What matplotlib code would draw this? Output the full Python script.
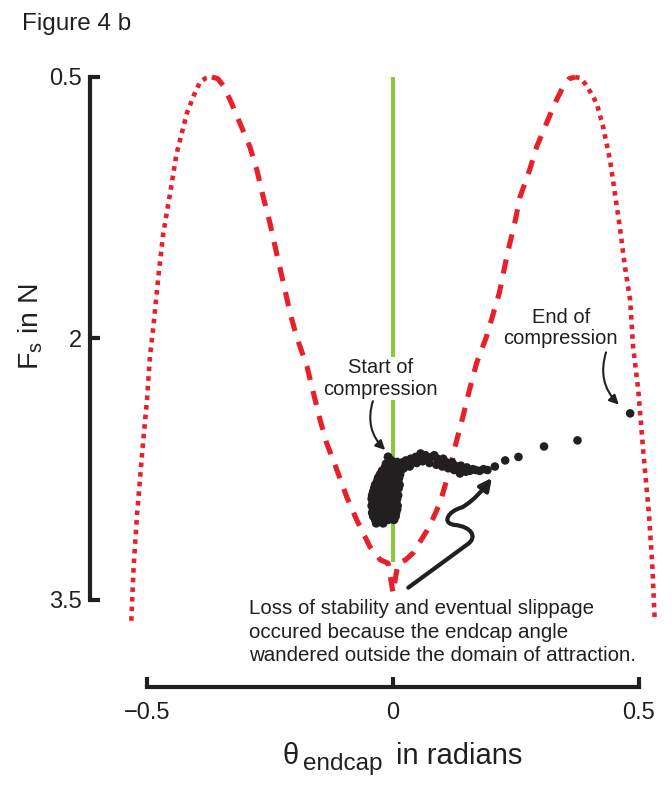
import matplotlib
matplotlib.use("Agg")
import matplotlib.pyplot as plt
from matplotlib.path import Path
from matplotlib.patches import FancyArrowPatch

plt.rcParams['font.family'] = ['Liberation Sans', 'DejaVu Sans']
plt.rcParams['mathtext.default'] = 'regular'

INK = '#231f20'
RED = '#e8202a'
GREEN = '#8dc63f'

# ---- theoretical curve ----
outer_left_theta = [-0.532, -0.527, -0.520, -0.510, -0.500, -0.494, -0.487, -0.477,
                    -0.467, -0.453, -0.440, -0.419, -0.404, -0.392, -0.380, -0.368]
outer_left_force = [3.62, 3.30, 3.00, 2.66, 2.35, 2.10, 1.93, 1.646,
                    1.397, 1.166, 0.94, 0.708, 0.60, 0.527, 0.506, 0.50]

inner_theta = [-0.368, -0.356, -0.345, -0.331, -0.311, -0.291, -0.277, -0.264, -0.250,
               -0.236, -0.223, -0.209, -0.196, -0.175, -0.162, -0.148, -0.135, -0.114,
               -0.094, -0.074, -0.047, -0.026, -0.010, 0.000, 0.010, 0.026, 0.041,
               0.074, 0.096, 0.116, 0.128, 0.142, 0.155, 0.170, 0.190, 0.216, 0.232,
               0.248, 0.258, 0.278, 0.292, 0.312, 0.329, 0.345, 0.358, 0.370]
inner_force = [0.50, 0.51, 0.55, 0.632, 0.766, 0.90, 1.03, 1.186, 1.34,
               1.52, 1.68, 1.856, 1.99, 2.16, 2.31, 2.47, 2.60, 2.755,
               2.91, 3.04, 3.195, 3.27, 3.29, 3.46, 3.29, 3.27, 3.23,
               3.08, 2.94, 2.745, 2.60, 2.45, 2.30, 2.14, 1.99, 1.74, 1.52,
               1.33, 1.19, 1.03, 0.90, 0.766, 0.651, 0.56, 0.51, 0.50]

outer_right_theta = [0.370, 0.380, 0.390, 0.402, 0.414, 0.427, 0.441, 0.451, 0.461,
                     0.4715, 0.482, 0.488, 0.4985, 0.509, 0.520, 0.527, 0.532]
outer_right_force = [0.50, 0.506, 0.536, 0.59, 0.651, 0.785, 0.976, 1.167, 1.36,
                     1.59, 1.78, 2.047, 2.296, 2.66, 3.00, 3.30, 3.62]

# ---- measured endcap angle during compression ----
blob_theta = [-0.010, -0.004,
              -0.014, -0.002, 0.008,
              -0.016, -0.006, 0.004, 0.012, 0.020,
              -0.022, -0.010, 0.000, 0.010, 0.018,
              -0.026, -0.014, -0.004, 0.006, 0.014,
              -0.030, -0.018, -0.008, 0.002, 0.012,
              -0.032, -0.020, -0.010, 0.000, 0.010,
              -0.036, -0.024, -0.014, -0.004, 0.006, 0.013,
              -0.038, -0.026, -0.016, -0.006, 0.004, 0.011,
              -0.040, -0.028, -0.018, -0.008, 0.004,
              -0.042, -0.030, -0.020, -0.010, 0.000, 0.010,
              -0.043, -0.032, -0.022, -0.012, -0.002, 0.008,
              -0.041, -0.028, -0.016, -0.006, 0.006,
              -0.043, -0.030, -0.020, -0.008, 0.002, 0.009,
              -0.040, -0.026, -0.014, -0.002, 0.008,
              -0.042, -0.028, -0.016, -0.004, 0.006,
              -0.040, -0.028, -0.016, -0.004, 0.005,
              -0.036, -0.022, -0.010, 0.002,
              -0.034, -0.020]
blob_force = [2.68, 2.70,
              2.72, 2.72, 2.71,
              2.74, 2.74, 2.74, 2.73, 2.72,
              2.76, 2.76, 2.76, 2.76, 2.75,
              2.78, 2.78, 2.78, 2.78, 2.78,
              2.80, 2.80, 2.80, 2.80, 2.80,
              2.82, 2.82, 2.82, 2.82, 2.82,
              2.84, 2.84, 2.84, 2.84, 2.84, 2.84,
              2.86, 2.86, 2.86, 2.86, 2.86, 2.86,
              2.88, 2.88, 2.88, 2.88, 2.88,
              2.90, 2.90, 2.90, 2.90, 2.90, 2.90,
              2.92, 2.92, 2.92, 2.92, 2.92, 2.92,
              2.94, 2.94, 2.94, 2.94, 2.94,
              2.96, 2.96, 2.96, 2.96, 2.96, 2.96,
              2.98, 2.98, 2.98, 2.98, 2.98,
              3.00, 3.00, 3.00, 3.00, 3.00,
              3.02, 3.02, 3.02, 3.02, 3.02,
              3.04, 3.04, 3.04, 3.04,
              3.06, 3.06]

trail_theta = [0.014, 0.020, 0.026, 0.030, 0.036, 0.042, 0.046, 0.052, 0.056, 0.062,
               0.066, 0.072, 0.078, 0.084, 0.090, 0.096, 0.102, 0.108, 0.114, 0.120,
               0.126, 0.132, 0.138, 0.144, 0.150, 0.156, 0.162, 0.168, 0.176, 0.184,
               0.192, 0.022, 0.034, 0.048, 0.060, 0.074, 0.088, 0.100, 0.112, 0.124,
               0.136, 0.148, 0.207, 0.228, 0.255, 0.307, 0.375, 0.482]
trail_force = [2.73, 2.71, 2.70, 2.72, 2.69, 2.70, 2.68, 2.69, 2.66, 2.68,
               2.67, 2.69, 2.68, 2.67, 2.69, 2.70, 2.69, 2.71, 2.72, 2.71,
               2.73, 2.74, 2.73, 2.75, 2.74, 2.76, 2.75, 2.755, 2.76, 2.75,
               2.755, 2.745, 2.735, 2.715, 2.705, 2.715, 2.725, 2.735, 2.745, 2.755,
               2.775, 2.765, 2.735, 2.70, 2.68, 2.62, 2.585, 2.43]

green_theta = [0.0, 0.0]
green_force = [0.5, 3.28]

x_ticks = [-0.5, 0, 0.5]
x_ticklabels = ['\u22120.5', '0', '0.5']
y_ticks = [0.5, 2, 3.5]
y_ticklabels = ['0.5', '2', '3.5']

fig = plt.figure(figsize=(6.72, 7.86), dpi=100)
ax = fig.add_axes([90 / 672, 99 / 786, 570 / 672, 627 / 786])
ax.set_xlim(-0.6159, 0.5427)
ax.set_ylim(4.0, 0.4025)

ax.plot(green_theta, green_force, color=GREEN, lw=3.0, solid_capstyle='butt', zorder=2)
ax.plot(outer_left_theta, outer_left_force, color=RED, lw=3.3, ls=(0, (1, 1.1)),
        dash_capstyle='butt', zorder=3)
ax.plot(outer_right_theta, outer_right_force, color=RED, lw=3.3, ls=(0, (1, 1.1)),
        dash_capstyle='butt', zorder=3)
ax.plot(inner_theta, inner_force, color=RED, lw=3.7, ls=(0, (2.8, 2.2)),
        dash_capstyle='butt', zorder=3)

ax.scatter(blob_theta, blob_force, s=42, color=INK, edgecolors='none', zorder=5)
ax.scatter(trail_theta, trail_force, s=38, color=INK, edgecolors='none', zorder=5)

for s in ['top', 'right']:
    ax.spines[s].set_visible(False)
ax.spines['left'].set_bounds(0.5, 3.5)
ax.spines['bottom'].set_bounds(-0.5, 0.5)
for s in ['left', 'bottom']:
    ax.spines[s].set_linewidth(3.0)
    ax.spines[s].set_color(INK)
    ax.spines[s].set_capstyle('projecting')

ax.set_xticks(x_ticks)
ax.set_xticklabels(x_ticklabels)
ax.set_yticks(y_ticks)
ax.set_yticklabels(y_ticklabels)
ax.tick_params(direction='in', length=7, width=3, color=INK, labelcolor=INK,
               labelsize=17)
ax.tick_params(axis='y', pad=6)
ax.tick_params(axis='x', pad=11)

# x label: theta with subscript, then "in radians"
fig.text(291 / 672, 1 - 764 / 786, '\u03b8', fontsize=21, color=INK,
         ha='center', va='baseline')
fig.text(303 / 672, 1 - 770 / 786, 'endcap', fontsize=17.5, color=INK,
         ha='left', va='baseline')
fig.text(396 / 672, 1 - 764 / 786, 'in radians', fontsize=21, color=INK,
         ha='left', va='baseline')

ax.set_ylabel(r'F$_{s}$ in N', fontsize=20.5, color=INK)
ax.yaxis.set_label_coords(-0.079, 0.575)

fig.text(22 / 672, 1 - 24 / 786, 'Figure 4 b', fontsize=17.5, color=INK,
         ha='left', va='center')

# annotations
ax.text(-0.026, 2.23, 'Start of\ncompression', fontsize=14.5, color=INK,
        ha='center', va='center', linespacing=1.15,
        bbox=dict(facecolor='white', edgecolor='none', pad=1), zorder=4)
ax.text(0.341, 1.94, 'End of\ncompression', fontsize=14.5, color=INK,
        ha='center', va='center', linespacing=1.15, zorder=4)
ax.text(-0.293, 3.685, 'Loss of stability and eventual slippage\n'
        'occured because the endcap angle\n'
        'wandered outside the domain of attraction.',
        fontsize=14.8, color=INK, ha='left', va='center', linespacing=1.28, zorder=4)

ax.annotate('', xy=(-0.016, 2.64), xytext=(-0.041, 2.36),
            arrowprops=dict(arrowstyle='-|>', color=INK, lw=1.5,
                            connectionstyle='arc3,rad=0.3', mutation_scale=14,
                            shrinkA=0, shrinkB=0), zorder=6)
ax.annotate('', xy=(0.459, 2.38), xytext=(0.433, 2.08),
            arrowprops=dict(arrowstyle='-|>', color=INK, lw=1.5,
                            connectionstyle='arc3,rad=0.3', mutation_scale=14,
                            shrinkA=0, shrinkB=0), zorder=6)

verts = [(0.031, 3.43), (0.152, 3.18),
         (0.172, 3.14), (0.160, 3.08), (0.125, 3.07),
         (0.098, 3.06), (0.112, 2.99), (0.140, 2.97),
         (0.165, 2.93), (0.185, 2.86), (0.201, 2.80)]
codes = [Path.MOVETO, Path.LINETO,
         Path.CURVE4, Path.CURVE4, Path.CURVE4,
         Path.CURVE4, Path.CURVE4, Path.CURVE4,
         Path.CURVE4, Path.CURVE4, Path.CURVE4]
wiggle = FancyArrowPatch(path=Path(verts, codes), arrowstyle='-|>', color=INK,
                         lw=3.0, mutation_scale=18, transform=ax.transData, zorder=6)
ax.add_patch(wiggle)

fig.savefig('out.png', dpi=100)
